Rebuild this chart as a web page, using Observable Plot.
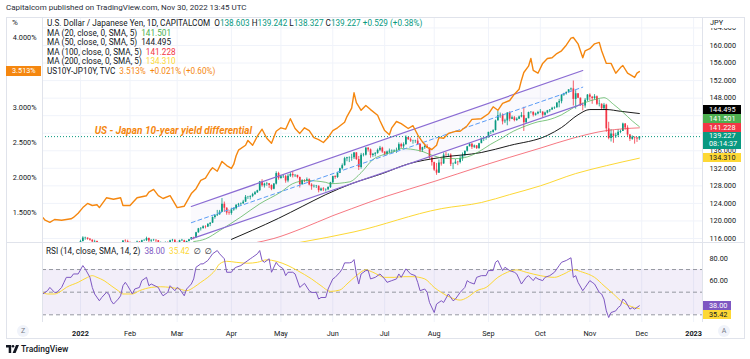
<!DOCTYPE html>
<html>
<head>
<meta charset="utf-8">
<script src="https://cdn.jsdelivr.net/npm/d3@7"></script>
<script src="https://cdn.jsdelivr.net/npm/@observablehq/plot@0.6"></script>
<style>
  html, body { margin:0; padding:0; background:#ffffff; }
  #root { position:relative; width:750px; height:359px; overflow:hidden; background:#fff;
          font-family: Roboto, "Liberation Sans", "DejaVu Sans", sans-serif; color:#131722; }
  .a { position:absolute; white-space:nowrap; }
  .box { position:absolute; box-sizing:border-box; font-size:7.3px; line-height:9px; padding-left:6px; white-space:nowrap; }
  .ln { position:absolute; background:#e0e3eb; }
</style>
</head>
<body>
<div id="root"></div>
<script>
// ================= DATA =================
// USD/JPY daily candles, one per trading session starting Mon 2022-01-03.
const firstSessionDate = "2022-01-03";
const firstOpen = 115.1;
const closes = [
115.3,116.1,116.1,115.8,115.6, 115.2,115.3,114.6,114.2,114.2, 114.6,114.6,114.3,114.1,113.7, 113.9,113.9,114.6,115.4,115.3,
115.1,114.7,114.5,114.9,115.2, 115.1,115.5,115.5,116.0,115.4, 115.6,115.6,115.5,114.9,115.0, 114.7,115.1,115.0,115.5,115.6,
115.0,114.9,115.5,115.5,114.8, 115.3,115.7,116.2,116.1,117.3, 118.2,118.3,118.7,118.6,119.2, 119.5,120.8,121.2,121.4,122.0,
123.8,122.9,121.8,121.7,122.5, 122.8,123.6,123.8,123.9,124.3, 125.4,125.4,125.6,126.0,126.4, 126.9,128.9,128.0,128.4,128.5,
128.1,127.2,128.4,130.8,129.7, 130.1,130.1,129.1,130.2,130.6, 130.3,130.4,129.9,128.3,129.2, 129.1,129.4,128.2,127.8,127.9,
127.9,126.9,127.3,127.1,127.1, 127.6,128.7,130.1,129.9,130.9, 131.9,132.6,134.2,134.4,134.4, 134.4,135.5,134.0,132.2,135.0,
135.0,136.6,136.2,134.9,135.2, 135.4,136.1,136.6,135.7,135.2, 135.7,135.9,135.9,136.0,136.1, 137.4,136.9,137.4,139.0,138.5,
138.2,138.2,138.2,137.4,136.1, 136.7,137.0,136.6,134.3,133.3, 131.6,130.9,133.2,133.0,135.0, 134.9,135.0,132.9,133.0,133.4,
133.3,134.2,135.0,135.9,136.9, 137.5,136.8,137.1,136.5,137.6, 138.7,138.8,138.9,140.2,140.2, 140.6,142.8,144.0,144.1,142.6,
142.8,144.6,143.2,143.5,142.9, 143.2,143.7,144.0,142.4,143.3, 144.7,144.8,144.1,144.4,144.7, 144.8,144.1,144.6,145.1,145.3,
145.7,145.8,146.9,147.2,148.7, 149.0,149.3,149.9,150.1,147.7, 149.0,148.0,146.3,146.2,147.5, 148.7,148.2,147.9,148.3,146.6,
146.6,145.6,146.4,141.0,138.8, 139.8,139.3,139.5,140.2,140.4, 142.1,141.2,139.6,138.6,139.1, 138.9,138.7,139.227];
const highs = [
115.6,116.4,116.3,116.1,116.0, 115.7,115.6,115.4,114.8,114.5, 114.8,115.0,114.8,114.4,114.2, 114.0,114.2,114.7,115.5,115.7,
115.6,115.2,114.8,115.1,115.4, 115.3,115.6,115.7,116.3,116.1, 115.7,115.8,115.7,115.5,115.2, 115.1,115.2,115.2,115.6,115.8,
115.7,115.2,115.6,115.8,115.6, 115.4,115.8,116.2,116.3,117.4, 118.3,118.5,118.9,118.9,119.4, 119.6,120.9,121.4,122.4,122.4,
125.1,124.3,123.0,122.4,122.9, 123.0,123.7,124.0,124.1,124.7, 125.8,125.6,125.7,126.3,126.7, 127.0,129.0,129.4,128.6,128.8,
128.5,128.2,128.5,131.2,131.1, 130.4,130.4,130.4,130.6,131.0, 131.3,130.5,130.4,130.0,129.4, 129.4,129.8,129.6,128.5,128.2,
128.1,128.0,127.5,127.6,127.3, 127.8,128.8,130.2,130.3,131.0, 132.0,133.0,134.5,134.5,134.6, 135.2,135.6,135.6,134.7,135.4,
135.4,136.7,136.7,136.4,135.4, 135.6,136.4,137.0,136.8,135.8, 135.9,136.4,136.2,136.2,136.6, 137.8,137.7,137.8,139.4,139.1,
138.9,138.4,138.4,138.9,137.6, 136.8,137.5,137.4,136.6,134.6, 133.4,133.1,133.9,134.5,135.5, 135.6,135.3,135.3,133.2,134.0,
133.6,134.7,135.5,135.9,137.0, 137.7,137.7,137.3,137.2,137.7, 138.9,139.0,139.1,140.2,140.4, 140.8,143.0,145.0,144.6,144.4,
143.2,144.7,144.9,143.9,143.8, 143.5,143.9,144.7,145.9,143.4, 144.8,144.9,144.8,144.6,145.0, 145.4,144.9,144.8,145.2,145.4,
145.9,146.0,146.9,147.7,148.8, 149.1,149.4,149.9,150.3,151.9, 149.7,149.0,148.0,146.9,147.9, 148.8,149.0,148.4,148.8,148.5,
147.6,146.7,146.8,146.6,142.5, 140.8,140.6,140.0,140.8,140.7, 142.3,142.2,141.7,139.7,139.4, 139.1,139.0,139.242];
const lows = [
115.0,115.2,115.6,115.6,115.4, 115.0,115.0,114.5,113.9,113.5, 114.1,114.4,114.0,113.9,113.6, 113.5,113.7,113.8,114.5,115.1,
114.9,114.6,114.3,114.5,114.7, 114.9,115.0,115.3,115.3,115.0, 115.1,115.3,115.0,114.8,114.8, 114.5,114.5,114.9,114.4,115.2,
114.8,114.6,114.8,115.3,114.7, 114.7,115.2,115.6,115.7,116.1, 117.2,117.7,118.1,118.2,118.5, 118.7,119.4,120.4,121.0,121.3,
121.9,122.0,121.3,121.3,121.3, 122.2,122.5,123.2,123.4,123.8, 124.2,124.9,124.8,125.3,125.8, 126.3,126.7,127.7,127.5,127.9,
127.4,126.9,127.1,128.2,129.3, 129.5,129.7,128.6,128.7,129.9, 129.8,129.9,129.6,127.5,128.1, 128.7,128.9,128.0,127.0,127.5,
127.4,126.4,126.7,126.7,126.6, 126.9,127.4,128.5,129.5,129.7, 130.8,131.6,132.5,133.5,133.3, 133.6,134.0,133.8,131.5,131.8,
134.6,134.8,135.7,134.3,134.5, 134.6,135.2,135.8,135.4,134.8, 134.9,135.3,135.3,135.6,135.4, 136.0,136.5,136.5,137.2,138.4,
137.9,137.5,137.7,137.3,135.6, 135.6,136.3,136.5,134.1,132.5, 131.3,130.4,130.9,132.5,132.9, 134.5,134.5,132.4,131.7,132.9,
132.6,133.0,133.6,134.6,135.7, 136.9,136.3,136.5,136.3,136.3, 137.9,138.1,138.4,139.0,139.7, 140.0,140.5,142.9,143.4,141.9,
142.2,141.7,142.6,143.1,142.6, 142.7,143.1,143.5,140.4,142.2, 143.3,144.4,143.7,143.9,144.2, 144.5,143.5,143.9,144.4,144.7,
145.2,145.4,145.7,145.8,146.7, 148.4,148.7,149.1,149.6,146.2, 145.5,147.9,146.1,145.1,145.7, 147.2,147.4,146.6,147.6,146.3,
146.0,145.3,145.2,140.2,138.5, 138.0,137.7,138.8,139.1,139.9, 140.4,140.7,139.2,138.1,138.4, 137.5,137.9,138.327];

// Moving averages (read at sample dates)
const ma20Dates = ["2022-03-10","2022-03-17","2022-03-25","2022-04-07","2022-04-19","2022-05-02","2022-05-09","2022-05-17","2022-05-27","2022-05-31","2022-06-10","2022-06-17","2022-06-24","2022-07-01","2022-07-08","2022-07-12","2022-07-22","2022-07-29","2022-08-05","2022-08-12","2022-08-19","2022-08-26","2022-09-02","2022-09-09","2022-09-14","2022-09-23","2022-09-30","2022-10-06","2022-10-14","2022-10-21","2022-10-28","2022-11-04","2022-11-09","2022-11-15","2022-11-21","2022-11-25","2022-11-30"];
const ma20Values = [115.3,115.9,117.8,120.9,123.9,126.6,128.5,129.2,128.8,128.5,128.9,131.0,134.0,135.2,136.0,136.5,136.0,135.0,134.3,134.2,134.6,135.8,137.5,139.0,140.0,141.7,142.6,143.0,144.2,145.8,147.0,147.8,148.1,146.6,144.8,142.8,141.501];
const ma50Dates = ["2022-04-01","2022-04-14","2022-04-29","2022-05-13","2022-05-27","2022-06-13","2022-06-30","2022-07-15","2022-08-04","2022-08-29","2022-09-14","2022-10-06","2022-10-14","2022-10-25","2022-11-01","2022-11-10","2022-11-18","2022-11-30"];
const ma50Values = [115.8,117.9,120.6,123.3,126.0,128.5,130.8,133.0,134.5,135.6,137.2,139.5,141.3,144.2,145.4,145.4,145.0,144.495];
const ma100Dates = ["2022-04-14","2022-04-27","2022-05-13","2022-06-01","2022-06-13","2022-07-01","2022-08-01","2022-08-29","2022-09-14","2022-10-03","2022-10-21","2022-11-10","2022-11-21","2022-11-30"];
const ma100Values = [114.9,116.0,118.3,121.2,122.8,125.5,129.0,132.5,134.5,136.6,138.9,140.6,141.0,141.228];
const ma200Dates = ["2022-05-12","2022-06-14","2022-08-04","2022-08-29","2022-09-14","2022-10-03","2022-10-24","2022-11-10","2022-11-30"];
const ma200Values = [115.1,117.5,122.8,124.2,126.0,128.0,130.8,132.6,134.31];

// Parallel channel drawing (start / end anchors)
const channelDates = ["2022-03-09","2022-10-27"];
const channelUpper = [123.3,154.3];
const channelMiddle = [119.6,150.5];
const channelLower = [115.9,146.7];

// US10Y-JP10Y spread (%), left scale
const yieldDates = ["2021-12-10","2021-12-13","2021-12-15","2021-12-17","2021-12-22","2021-12-28","2021-12-29","2021-12-31","2022-01-04","2022-01-06","2022-01-10","2022-01-12","2022-01-13","2022-01-18","2022-01-21","2022-01-26","2022-01-27","2022-02-01","2022-02-04","2022-02-10","2022-02-11","2022-02-15","2022-02-17","2022-02-21","2022-02-24","2022-03-01","2022-03-04","2022-03-09","2022-03-11","2022-03-15","2022-03-17","2022-03-21","2022-03-22","2022-03-24","2022-03-28","2022-03-30","2022-04-01","2022-04-04","2022-04-05","2022-04-06","2022-04-11","2022-04-12","2022-04-14","2022-04-18","2022-04-20","2022-04-22","2022-04-26","2022-04-28","2022-05-02","2022-05-04","2022-05-06","2022-05-10","2022-05-12","2022-05-16","2022-05-18","2022-05-20","2022-05-24","2022-05-26","2022-05-30","2022-06-01","2022-06-03","2022-06-08","2022-06-09","2022-06-13","2022-06-14","2022-06-15","2022-06-17","2022-06-21","2022-06-23","2022-06-28","2022-06-29","2022-07-01","2022-07-05","2022-07-06","2022-07-08","2022-07-12","2022-07-15","2022-07-19","2022-07-21","2022-07-25","2022-07-27","2022-07-29","2022-08-02","2022-08-03","2022-08-05","2022-08-09","2022-08-12","2022-08-16","2022-08-19","2022-08-23","2022-08-29","2022-09-01","2022-09-05","2022-09-07","2022-09-09","2022-09-14","2022-09-16","2022-09-20","2022-09-21","2022-09-22","2022-09-26","2022-09-27","2022-09-28","2022-09-30","2022-10-04","2022-10-06","2022-10-10","2022-10-12","2022-10-14","2022-10-18","2022-10-20","2022-10-21","2022-10-25","2022-10-27","2022-10-28","2022-11-01","2022-11-03","2022-11-07","2022-11-08","2022-11-10","2022-11-14","2022-11-16","2022-11-18","2022-11-21","2022-11-23","2022-11-28","2022-11-29","2022-11-30"];
const yieldValues = [1.43,1.39,1.36,1.40,1.39,1.41,1.43,1.49,1.57,1.63,1.60,1.61,1.57,1.71,1.69,1.71,1.60,1.60,1.71,1.74,1.79,1.83,1.74,1.70,1.74,1.57,1.59,1.77,1.84,1.96,1.99,2.10,2.14,2.09,2.23,2.17,2.13,2.19,2.31,2.39,2.46,2.53,2.46,2.59,2.69,2.56,2.49,2.66,2.71,2.69,2.84,2.70,2.63,2.71,2.67,2.57,2.54,2.50,2.57,2.67,2.71,2.79,2.87,2.99,3.21,3.07,2.96,3.03,2.97,2.89,2.81,2.67,2.61,2.71,2.80,2.77,2.70,2.74,2.61,2.51,2.43,2.40,2.46,2.57,2.56,2.63,2.66,2.66,2.74,2.83,2.84,2.91,3.01,2.96,3.06,3.10,3.19,3.26,3.39,3.50,3.59,3.70,3.53,3.49,3.63,3.70,3.71,3.77,3.81,3.89,3.99,4.00,3.91,3.71,3.81,3.84,3.91,3.93,3.81,3.63,3.63,3.49,3.57,3.60,3.49,3.43,3.49,3.513];

// RSI (14) and its SMA (14)
const rsiDates = ["2021-12-10","2021-12-14","2021-12-15","2021-12-17","2021-12-20","2021-12-22","2021-12-23","2021-12-24","2021-12-28","2021-12-29","2021-12-31","2022-01-04","2022-01-05","2022-01-07","2022-01-10","2022-01-11","2022-01-13","2022-01-14","2022-01-18","2022-01-19","2022-01-20","2022-01-21","2022-01-25","2022-01-26","2022-01-27","2022-01-28","2022-01-31","2022-02-02","2022-02-03","2022-02-07","2022-02-08","2022-02-10","2022-02-11","2022-02-14","2022-02-17","2022-02-18","2022-02-21","2022-02-23","2022-02-24","2022-02-28","2022-03-01","2022-03-02","2022-03-04","2022-03-07","2022-03-09","2022-03-10","2022-03-11","2022-03-15","2022-03-16","2022-03-18","2022-03-21","2022-03-22","2022-03-24","2022-03-25","2022-03-29","2022-03-30","2022-04-01","2022-04-04","2022-04-05","2022-04-07","2022-04-08","2022-04-12","2022-04-13","2022-04-14","2022-04-18","2022-04-19","2022-04-20","2022-04-21","2022-04-25","2022-04-26","2022-04-28","2022-04-29","2022-05-03","2022-05-04","2022-05-05","2022-05-09","2022-05-10","2022-05-12","2022-05-16","2022-05-18","2022-05-19","2022-05-23","2022-05-24","2022-05-25","2022-05-27","2022-05-30","2022-06-01","2022-06-02","2022-06-06","2022-06-07","2022-06-08","2022-06-10","2022-06-13","2022-06-14","2022-06-15","2022-06-16","2022-06-17","2022-06-21","2022-06-22","2022-06-23","2022-06-27","2022-06-29","2022-07-01","2022-07-04","2022-07-06","2022-07-08","2022-07-11","2022-07-12","2022-07-14","2022-07-18","2022-07-20","2022-07-21","2022-07-22","2022-07-26","2022-07-27","2022-07-28","2022-08-01","2022-08-02","2022-08-04","2022-08-05","2022-08-09","2022-08-11","2022-08-12","2022-08-16","2022-08-18","2022-08-19","2022-08-22","2022-08-24","2022-08-25","2022-08-29","2022-08-31","2022-09-01","2022-09-05","2022-09-06","2022-09-07","2022-09-09","2022-09-12","2022-09-14","2022-09-16","2022-09-19","2022-09-21","2022-09-23","2022-09-26","2022-09-28","2022-09-29","2022-09-30","2022-10-04","2022-10-05","2022-10-07","2022-10-11","2022-10-13","2022-10-14","2022-10-18","2022-10-20","2022-10-21","2022-10-24","2022-10-25","2022-10-27","2022-10-28","2022-11-01","2022-11-02","2022-11-03","2022-11-07","2022-11-08","2022-11-09","2022-11-10","2022-11-11","2022-11-14","2022-11-16","2022-11-17","2022-11-18","2022-11-21","2022-11-22","2022-11-24","2022-11-25","2022-11-28","2022-11-30"];
const rsiValues = [48.4,51.3,54.2,49.8,49.8,54.2,58.7,63.1,63.1,66.1,66.1,73.5,70.6,63.1,54.2,48.4,42.4,45.3,49.8,48.4,42.4,39.5,43.9,46.8,55.7,58.7,55.7,48.4,52.8,54.2,60.2,63.1,55.7,57.2,54.2,49.8,46.8,49.8,55.7,51.3,54.2,52.8,46.8,52.8,57.2,61.7,72.0,75.0,75.0,78.0,80.9,83.9,86.8,83.9,79.5,67.6,67.6,70.6,72.0,73.5,75.0,78.0,79.5,80.9,83.9,86.8,78.0,76.4,79.5,67.6,76.4,73.5,70.6,64.6,67.6,67.6,66.1,54.2,57.8,51.3,49.8,49.8,43.9,45.3,45.3,52.8,61.7,63.1,67.6,70.6,75.9,75.9,76.4,78.8,66.1,57.2,66.1,69.1,69.1,61.7,63.1,66.1,61.7,58.7,60.2,61.7,66.1,63.1,70.6,66.1,64.6,58.7,51.3,52.8,49.8,40.9,32.0,39.5,42.4,40.9,48.4,42.4,43.9,49.8,54.2,60.2,58.7,57.2,63.1,64.6,64.6,69.1,69.1,76.4,78.0,69.1,72.0,69.1,67.6,66.1,57.2,63.1,64.6,60.2,63.1,61.7,60.2,63.1,64.6,67.6,73.5,76.4,78.0,80.4,63.1,64.6,58.7,51.3,54.2,60.2,58.7,57.2,49.8,48.4,43.9,33.5,27.6,32.0,33.5,36.4,38.0,43.9,42.4,35.0,36.4,35.0,38.0];
const rsiMaDates = ["2021-12-10","2021-12-14","2021-12-17","2021-12-22","2021-12-24","2021-12-31","2022-01-06","2022-01-10","2022-01-12","2022-01-17","2022-01-20","2022-01-25","2022-01-27","2022-02-02","2022-02-07","2022-02-14","2022-02-18","2022-02-24","2022-03-02","2022-03-07","2022-03-10","2022-03-15","2022-03-18","2022-03-23","2022-03-25","2022-03-30","2022-04-05","2022-04-12","2022-04-18","2022-04-22","2022-04-28","2022-05-05","2022-05-11","2022-05-19","2022-05-25","2022-05-31","2022-06-06","2022-06-09","2022-06-15","2022-06-21","2022-06-24","2022-07-01","2022-07-07","2022-07-13","2022-07-19","2022-07-26","2022-08-01","2022-08-04","2022-08-10","2022-08-16","2022-08-19","2022-08-25","2022-08-31","2022-09-07","2022-09-13","2022-09-19","2022-09-23","2022-10-03","2022-10-11","2022-10-17","2022-10-21","2022-10-27","2022-11-03","2022-11-09","2022-11-15","2022-11-21","2022-11-28","2022-11-30"];
const rsiMaValues = [49.8,48.4,48.4,51.3,54.2,58.7,63.1,64.6,63.1,60.2,55.7,51.3,48.4,48.4,51.3,54.2,54.8,54.2,52.8,51.3,54.2,58.7,63.1,69.1,75.0,77.3,76.4,75.6,76.4,78.6,77.3,73.5,69.1,61.7,55.7,50.7,51.9,57.2,64.6,69.7,67.6,63.1,63.1,63.7,63.7,61.7,54.2,49.8,45.3,43.0,45.3,51.3,54.2,63.1,67.6,69.7,67.6,64.6,63.1,66.1,69.7,67.6,63.1,55.7,48.4,40.9,36.4,35.42];

// Axis ticks / labels
const monthTickDates = ["2022-01-03","2022-02-01","2022-03-01","2022-04-01","2022-05-02","2022-06-01","2022-07-01","2022-08-01","2022-09-01","2022-10-03","2022-11-01","2022-12-01","2023-01-02"];
const monthTickLabels = ["2022","Feb","Mar","Apr","May","Jun","Jul","Aug","Sep","Oct","Nov","Dec","2023"];
const priceGrid = [116,120,124,128,132,136,140,144,148,152,156,160,164];
const priceTickLabels = [116,120,124,128,132,136,148,152,156,160,164];   // 140/144 sit under the value tags
const pctTicks = [1.5,2.0,2.5,3.0,4.0];                                   // 3.5 sits under the spread tag
const rsiTicks = [60,80];                                                  // 40 sits under the RSI tags
const rsiLevels = [70,50,30];
const rsiBand = [30,70];
const annotationText = "US - Japan 10-year yield differential";
const annotationDate = "2022-01-11";
const annotationPrice = 140.6;

// ================= RENDERING =================
const FONT = 'Roboto, "Liberation Sans", sans-serif';
const UP = "#089981", DOWN = "#f23645", ORANGE = "#f5870f", PURPLE = "#7e57c2", CHAN = "#8a6bd3";
const GREEN = "#4caf50", BLACK = "#131722", RED = "#f23645", YELLOW = "#fdd835", GRID = "#f0f3fa";

const T0 = Date.UTC(2022, 0, 3);
function sessionIndex(s) {
  const [y, m, d] = s.split("-").map(Number);
  const days = Math.round((Date.UTC(y, m - 1, d) - T0) / 864e5);
  const w = Math.floor(days / 7);
  return 5 * w + (days - 7 * w);
}
const series = (dates, vals) => dates.map((d, k) => ({ i: sessionIndex(d), v: vals[k] }));
const start0 = sessionIndex(firstSessionDate);
const candles = closes.map((c, k) => {
  const o = k ? closes[k - 1] : firstOpen;
  return { i: start0 + k, o, c, c2: c === o ? c + 0.08 : c, h: highs[k], l: lows[k], col: c >= o ? UP : DOWN };
});
const ma20 = series(ma20Dates, ma20Values), ma50 = series(ma50Dates, ma50Values);
const ma100 = series(ma100Dates, ma100Values), ma200 = series(ma200Dates, ma200Values);
const channel = channelDates.map((d, k) => ({ i: sessionIndex(d), hi: channelUpper[k], mid: channelMiddle[k], lo: channelLower[k] }));
const yields = series(yieldDates, yieldValues);
const rsi = series(rsiDates, rsiValues), rsiMa = series(rsiMaDates, rsiMaValues);
const tickIdx = monthTickDates.map(sessionIndex);
const tickLabelOf = new Map(tickIdx.map((t, k) => [t, monthTickLabels[k]]));
const lastClose = closes[closes.length - 1];

const xDomain = [-16.115, 263.78];
const priceDomain = [115.084, 166.384];
const pctDomain = [1.0714, 4.2857];
const rsiDomain = [23.2, 93.9];

const root = document.getElementById("root");
function add(html, css, cls = "a") { const d = document.createElement("div"); d.className = cls; d.style.cssText = css; d.innerHTML = html; root.appendChild(d); return d; }
function place(svg, left, top) { svg.style.position = "absolute"; svg.style.left = left + "px"; svg.style.top = top + "px"; svg.style.maxWidth = "none"; root.appendChild(svg); return svg; }

const baseStyle = { background: "transparent", fontSize: "7.3px", fontFamily: FONT, color: "#131722", overflow: "visible" };

// --- main price pane ---
const mainPlot = Plot.plot({
  width: 739, height: 225, marginLeft: 36, marginRight: 43, marginTop: 0, marginBottom: 0,
  x: { domain: xDomain, axis: null, label: null },
  y: { domain: priceDomain, axis: "right", label: null, ticks: priceTickLabels, tickFormat: d => d.toFixed(3), tickSize: 0, tickPadding: 7 },
  style: baseStyle,
  marks: [
    Plot.gridY(priceGrid, { stroke: GRID, strokeOpacity: 1 }),
    Plot.gridX(tickIdx, { stroke: GRID, strokeOpacity: 1 }),
    Plot.areaY(channel, { x: "i", y1: "lo", y2: "hi", fill: PURPLE, fillOpacity: 0.035, clip: true }),
    Plot.ruleX(candles, { x: "i", y1: "l", y2: "h", stroke: "col", strokeWidth: 0.8, clip: true }),
    Plot.ruleX(candles, { x: "i", y1: "o", y2: "c2", stroke: "col", strokeWidth: 1.7, clip: true }),
    Plot.line(ma200, { x: "i", y: "v", stroke: YELLOW, strokeWidth: 1, clip: true, curve: "monotone-x" }),
    Plot.line(ma100, { x: "i", y: "v", stroke: RED, strokeWidth: 0.9, strokeOpacity: 0.75, clip: true, curve: "monotone-x" }),
    Plot.line(ma50, { x: "i", y: "v", stroke: "#000", strokeWidth: 0.9, clip: true, curve: "monotone-x" }),
    Plot.line(ma20, { x: "i", y: "v", stroke: GREEN, strokeWidth: 0.9, strokeOpacity: 0.8, clip: true, curve: "monotone-x" }),
    Plot.line(channel, { x: "i", y: "hi", stroke: CHAN, strokeWidth: 1.2 }),
    Plot.line(channel, { x: "i", y: "lo", stroke: CHAN, strokeWidth: 1.2 }),
    Plot.line(channel, { x: "i", y: "mid", stroke: "#5b9cf6", strokeWidth: 1, strokeDasharray: "4,3" }),
    Plot.ruleY([lastClose], { stroke: UP, strokeDasharray: "1,2", strokeWidth: 1 }),
    Plot.text([annotationText], { x: () => sessionIndex(annotationDate), y: () => annotationPrice, text: d => d, textAnchor: "start",
      fill: ORANGE, fontWeight: "bold", fontStyle: "italic", fontSize: 10, fontFamily: FONT })
  ]
});
place(mainPlot, 6, 17);

// --- spread (left % scale) overlay ---
const pctPlot = Plot.plot({
  width: 739, height: 225, marginLeft: 36, marginRight: 43, marginTop: 0, marginBottom: 0,
  x: { domain: xDomain, axis: null, label: null },
  y: { domain: pctDomain, axis: "left", label: null, ticks: pctTicks, tickFormat: d => d.toFixed(3) + "%", tickSize: 0, tickPadding: 6 },
  style: baseStyle,
  marks: [ Plot.line(yields, { x: "i", y: "v", stroke: ORANGE, strokeWidth: 1.4 }) ]
});
place(pctPlot, 6, 17);

// --- RSI pane with time axis ---
const rsiPlot = Plot.plot({
  width: 739, height: 97, marginLeft: 36, marginRight: 43, marginTop: 0, marginBottom: 17,
  x: { domain: xDomain, label: null, ticks: tickIdx, tickFormat: d => tickLabelOf.get(d), tickSize: 0, tickPadding: 8 },
  y: { domain: rsiDomain, axis: "right", label: null, ticks: rsiTicks, tickFormat: d => d.toFixed(2), tickSize: 0, tickPadding: 7 },
  style: baseStyle,
  marks: [
    Plot.gridX(tickIdx, { stroke: GRID, strokeOpacity: 1 }),
    Plot.rect([rsiBand], { x1: () => xDomain[0], x2: () => xDomain[1], y1: d => d[0], y2: d => d[1], fill: PURPLE, fillOpacity: 0.1 }),
    Plot.ruleY(rsiLevels, { stroke: "#9598a1", strokeDasharray: "4,3", strokeWidth: 1 }),
    Plot.line(rsiMa, { x: "i", y: "v", stroke: YELLOW, strokeWidth: 1, curve: "monotone-x" }),
    Plot.line(rsi, { x: "i", y: "v", stroke: PURPLE, strokeWidth: 1 })
  ]
});
place(rsiPlot, 6, 242);
rsiPlot.querySelectorAll("text").forEach(t => { if (/^20\d\d$/.test(t.textContent)) t.setAttribute("font-weight", "bold"); });

// --- frame lines ---
add("", "left:6px;top:17px;width:739px;height:322px;border:1px solid #e0e3eb;box-sizing:border-box;");
add("", "left:6px;top:242px;width:739px;height:1px;", "ln");
add("", "left:42px;top:17px;width:1px;height:305px;", "ln");
add("", "left:702px;top:17px;width:1px;height:305px;", "ln");

// --- header + legends ---
add("Capitalcom published on TradingView.com, Nov 30, 2022 13:45 UTC", "left:6px;top:3px;font-size:8px;line-height:10px;color:#2a2e39;");
add("%", "left:12px;top:18px;font-size:8px;line-height:10px;");
add("JPY", "left:703px;top:18px;width:41px;height:10px;padding-left:7px;box-sizing:border-box;font-size:7.3px;line-height:10px;background:#fff;");
const g = s => `<span style="color:${UP}">${s}</span>`;
add(`U.S. Dollar / Japanese Yen, 1D, CAPITALCOM&nbsp; O${g("138.603")} H${g(highs[highs.length-1].toFixed(3))} L${g(lows[lows.length-1].toFixed(3))} C${g(lastClose.toFixed(3))} ${g("+0.529 (+0.38%)")}`,
  "left:47px;top:18px;font-size:8.2px;line-height:10px;");
const maRows = [["MA (20, close, 0, SMA, 5)", ma20Values, GREEN], ["MA (50, close, 0, SMA, 5)", ma50Values, BLACK], ["MA (100, close, 0, SMA, 5)", ma100Values, RED], ["MA (200, close, 0, SMA, 5)", ma200Values, YELLOW]];
[28, 37, 47, 56].forEach((top, k) => {
  const [lab, vals, col] = maRows[k];
  add(`${lab}&nbsp; <span style="color:${col}">${vals[vals.length - 1].toFixed(3)}</span>`, `left:47px;top:${top}px;font-size:8.2px;line-height:10px;`);
});
add(`US10Y-JP10Y, TVC&nbsp; <span style="color:${ORANGE}">${yieldValues[yieldValues.length-1].toFixed(3)}%&nbsp; +0.021% (+0.60%)</span>`, "left:47px;top:66px;font-size:8.2px;line-height:10px;");

// --- price labels on right axis (stacked upward from the bottom) ---
const ys = mainPlot.scale("y"), ps = pctPlot.scale("y"), rs = rsiPlot.scale("y");
const priceLabels = [
  { v: ma50Values[ma50Values.length - 1], bg: "#000", fg: "#fff" },
  { v: ma20Values[ma20Values.length - 1], bg: GREEN, fg: "#fff" },
  { v: ma100Values[ma100Values.length - 1], bg: RED, fg: "#fff" },
  { v: lastClose, bg: UP, fg: "#fff", extra: "08:14:37" },
  { v: ma200Values[ma200Values.length - 1], bg: YELLOW, fg: "#131722" }
].map(d => ({ ...d, y: 17 + ys.apply(d.v), h: d.extra ? 17.5 : 9 })).sort((a, b) => b.y - a.y);
let prevTop = Infinity;
for (const d of priceLabels) {
  const top = Math.min(d.y - 4.5, prevTop - d.h);
  prevTop = top;
  add(d.v.toFixed(3) + (d.extra ? "<br>" + d.extra : ""), `left:703px;top:${top}px;width:38px;height:${d.h}px;background:${d.bg};color:${d.fg};line-height:${d.extra ? 8.75 : 9}px;`, "box");
}
// spread label on left axis
const lastYield = yieldValues[yieldValues.length - 1];
add(lastYield.toFixed(3) + "%", `left:6px;top:${17 + ps.apply(lastYield) - 5}px;width:35px;height:10px;background:${ORANGE};color:#fff;line-height:10px;padding-left:6px;`, "box");

// --- RSI legend + labels ---
const lastRsi = rsiValues[rsiValues.length - 1], lastRsiMa = rsiMaValues[rsiMaValues.length - 1];
add(`RSI (14, close, SMA, 14, 2)&nbsp; <span style="color:${PURPLE}">${lastRsi.toFixed(2)}</span>&nbsp; <span style="color:${YELLOW}">${lastRsiMa.toFixed(2)}</span>&nbsp; ∅&nbsp; ∅`,
  "left:46px;top:246px;font-size:8.2px;line-height:10px;");
const rTop = 242 + rs.apply(lastRsi) - 4.5;
add(lastRsi.toFixed(2), `left:703px;top:${rTop}px;width:28px;height:9px;background:${PURPLE};color:#fff;`, "box");
add(lastRsiMa.toFixed(2), `left:703px;top:${Math.max(242 + rs.apply(lastRsiMa) - 4.5, rTop + 9)}px;width:28px;height:9px;background:${YELLOW};color:#131722;`, "box");

// --- bottom buttons & logo ---
add("Z", "left:17px;top:325px;width:12px;height:12px;border-radius:50%;background:#f0f3fa;color:#787b86;font-size:7px;line-height:12px;text-align:center;");
add("A", "left:718px;top:325px;width:12px;height:12px;border-radius:50%;background:#f0f3fa;color:#787b86;font-size:7px;line-height:12px;text-align:center;");
add(`<svg width="13" height="8" viewBox="0 0 13 8" style="vertical-align:-1px"><path d="M0 0H5.2V8H2.7V2.4H0Z" fill="#131722"/><circle cx="7" cy="1.3" r="1.3" fill="#131722"/><path d="M10 0H13L9.6 8H6.6Z" fill="#131722"/></svg> TradingView`,
  "left:6px;top:344px;font-size:8.5px;line-height:10px;font-weight:500;");
</script>
</body>
</html>
